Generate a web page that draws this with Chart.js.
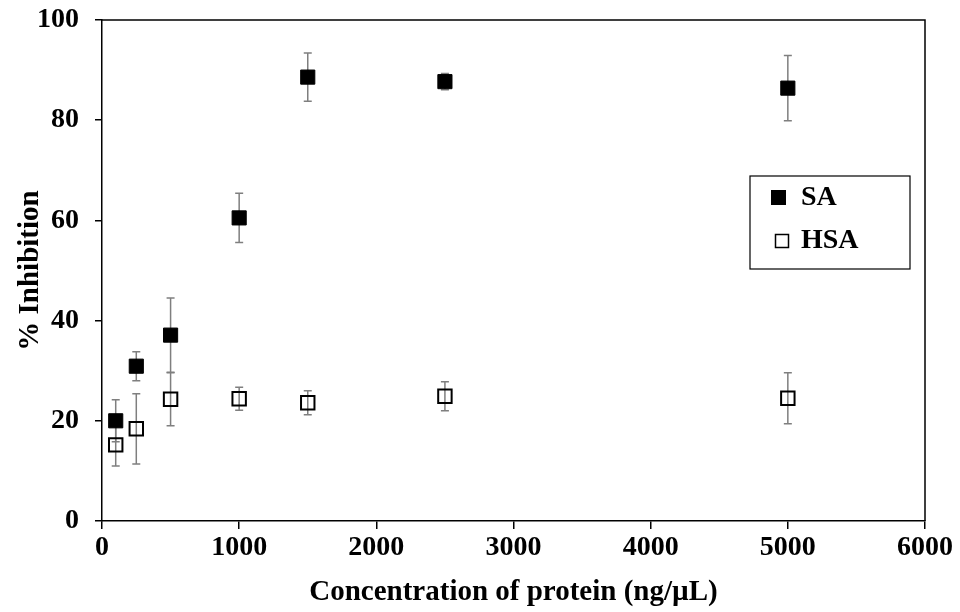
<!DOCTYPE html>
<html>
<head>
<meta charset="utf-8">
<script src="https://cdn.jsdelivr.net/npm/chart.js@4.4.1/dist/chart.umd.min.js"></script>
<style>
html,body{margin:0;padding:0;background:#fff;}
#wrap{width:960px;height:612px;position:relative;}
</style>
</head>
<body>
<div id="wrap"><canvas id="c" width="960" height="612"></canvas></div>
<script>
// ---- data ----
const concentrations = [100, 250, 500, 1000, 1500, 2500, 5000];
const saValues  = [20.0, 30.9, 37.1, 60.5, 88.6, 87.7, 86.4];
const saErrors  = [4.2, 2.9, 7.4, 4.9, 4.8, 1.6, 6.5];
const hsaValues = [15.2, 18.4, 24.3, 24.4, 23.6, 24.9, 24.5];
const hsaErrors = [4.2, 7.0, 5.3, 2.3, 2.4, 2.9, 5.1];
const seriesLabels = ['SA', 'HSA'];
const xTitle = 'Concentration of protein (ng/\u00B5L)';
const yTitle = '% Inhibition';

const FONT = "'Liberation Serif', 'Times New Roman', serif";

function pts(vals){ return concentrations.map((x,i)=>({x:x, y:vals[i]})); }

const errorBars = {
  id:'errorBars',
  beforeDatasetsDraw(chart){
    const ctx = chart.ctx, xs = chart.scales.x, ys = chart.scales.y;
    const errs = [saErrors, hsaErrors];
    ctx.save();
    ctx.strokeStyle = '#7f7f7f';
    ctx.lineWidth = 1.5;
    chart.data.datasets.forEach((ds, di)=>{
      ds.data.forEach((p, i)=>{
        const e = errs[di][i];
        const px = xs.getPixelForValue(p.x);
        const top = ys.getPixelForValue(p.y + e);
        const bot = ys.getPixelForValue(p.y - e);
        ctx.beginPath();
        ctx.moveTo(px, top); ctx.lineTo(px, bot);
        ctx.moveTo(px-4, top); ctx.lineTo(px+4, top);
        ctx.moveTo(px-4, bot); ctx.lineTo(px+4, bot);
        ctx.stroke();
      });
    });
    ctx.restore();
  }
};

const frameAndLegend = {
  id:'frameAndLegend',
  afterDraw(chart){
    const ctx = chart.ctx, a = chart.chartArea;
    ctx.save();
    ctx.strokeStyle = '#000';
    ctx.lineWidth = 1.5;
    ctx.beginPath();
    ctx.moveTo(a.left, a.top); ctx.lineTo(a.right, a.top); ctx.lineTo(a.right, a.bottom);
    ctx.stroke();
    // legend
    const lx = 750, ly = 176, lw = 160, lh = 93;
    ctx.lineWidth = 1.2;
    ctx.strokeRect(lx, ly, lw, lh);
    ctx.font = "bold 28px " + FONT;
    ctx.textBaseline = 'middle';
    ctx.fillStyle = '#000';
    // SA
    ctx.fillRect(771, 190, 15, 15);
    ctx.fillText(seriesLabels[0], 801, 198);
    // HSA
    ctx.lineWidth = 1.5;
    ctx.strokeRect(775.5, 234.5, 13, 13);
    ctx.fillText(seriesLabels[1], 801, 241);
    ctx.restore();
  }
};

new Chart(document.getElementById('c'), {
  type:'scatter',
  data:{
    datasets:[
      {label:seriesLabels[0], data:pts(saValues), pointStyle:'rect', pointRadius:10, pointHoverRadius:10,
       backgroundColor:'#000', borderColor:'#000', borderWidth:1},
      {label:seriesLabels[1], data:pts(hsaValues), pointStyle:'rect', pointRadius:9.5, pointHoverRadius:9.5,
       backgroundColor:'rgba(0,0,0,0)', borderColor:'#000', borderWidth:2}
    ]
  },
  options:{
    responsive:false,
    animation:false,
    events:[],
    layout:{padding:{top:20, right:35, left:0, bottom:0}},
    plugins:{legend:{display:false}, tooltip:{enabled:false}},
    scales:{
      x:{
        type:'linear', min:0, max:6000,
        afterFit(s){ s.height = 91; s.paddingLeft = 0; s.paddingRight = 0; },
        ticks:{stepSize:1000, color:'#000', padding:2, font:{family:FONT, size:28, weight:'bold'}, maxRotation:0,
               callback:(v)=>String(v)},
        grid:{display:true, drawOnChartArea:false, drawTicks:true, tickLength:8, color:'#000', lineWidth:1.5},
        border:{display:true, color:'#000', width:1.5},
        title:{display:true, text:xTitle, color:'#000', font:{family:FONT, size:29, weight:'bold'}, padding:{top:2, bottom:2}}
      },
      y:{
        type:'linear', min:0, max:100,
        afterFit(s){ s.width = 102; s.paddingTop = 0; s.paddingBottom = 0; },
        ticks:{stepSize:20, color:'#000', padding:16, font:{family:FONT, size:28, weight:'bold'}, callback:(v)=>String(v)},
        grid:{display:true, drawOnChartArea:false, drawTicks:true, tickLength:7, color:'#000', lineWidth:1.5},
        border:{display:true, color:'#000', width:1.5},
        title:{display:true, text:yTitle, color:'#000', font:{family:FONT, size:29, weight:'bold'}, padding:{top:13, bottom:0}}
      }
    }
  },
  plugins:[errorBars, frameAndLegend]
});
</script>
</body>
</html>
